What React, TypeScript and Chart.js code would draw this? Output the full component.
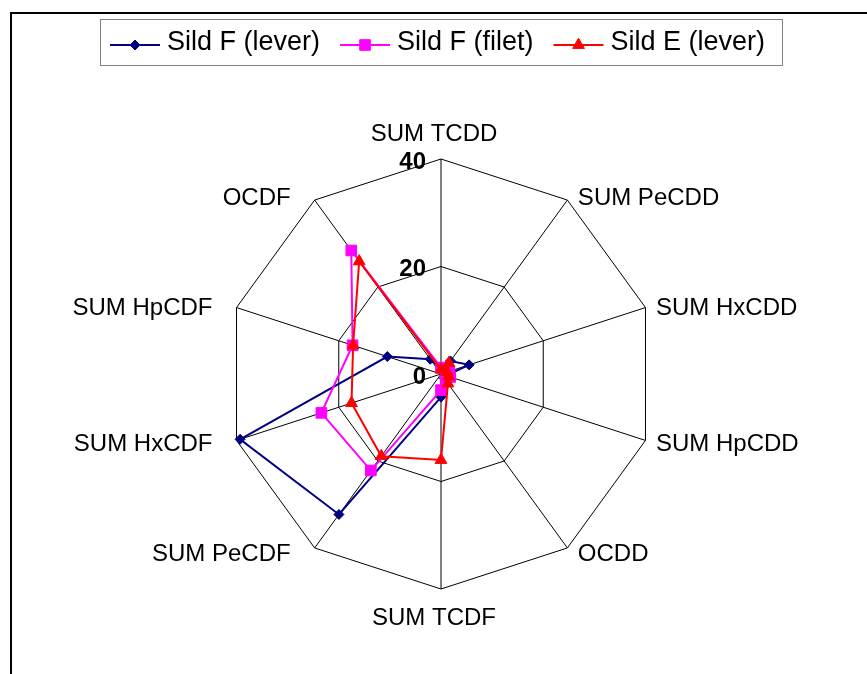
import React, { useEffect, useRef } from 'react';
import { Chart, registerables } from 'chart.js';

Chart.register(...registerables);

const categories = [
  'SUM TCDD',
  'SUM PeCDD',
  'SUM HxCDD',
  'SUM HpCDD',
  'OCDD',
  'SUM TCDF',
  'SUM PeCDF',
  'SUM HxCDF',
  'SUM HpCDF',
  'OCDF',
];

const seriesNames = ['Sild F (lever)', 'Sild F (filet)', 'Sild E (lever)'];
const sildFLever = [1.0, 3.0, 5.5, 1.0, 1.0, 4.3, 32.3, 39.3, 10.5, 3.4];
const sildFFilet = [1.2, 1.2, 1.6, 1.8, 1.5, 3.0, 22.2, 23.4, 17.3, 28.4];
const sildELever = [0.8, 2.5, 1.2, 1.5, 2.2, 16.0, 18.9, 17.5, 17.2, 25.9];
const tickValues = [0, 20, 40];

const seriesColors = ['#000080', '#FF00FF', '#FF0000'];
const seriesStyles = ['rectRot', 'rect', 'triangle'];
const seriesRadius = [5, 7.5, 6.8];

const FONT = '"Liberation Sans", Arial, sans-serif';

function drawMarker(ctx: CanvasRenderingContext2D, style: string, x: number, y: number, r: number, color: string) {
  ctx.save();
  ctx.fillStyle = color;
  ctx.strokeStyle = color;
  ctx.lineWidth = 1;
  ctx.beginPath();
  if (style === 'rectRot') {
    ctx.moveTo(x - r, y);
    ctx.lineTo(x, y - r);
    ctx.lineTo(x + r, y);
    ctx.lineTo(x, y + r);
    ctx.closePath();
  } else if (style === 'rect') {
    const s = Math.SQRT1_2 * r;
    ctx.rect(x - s, y - s, 2 * s, 2 * s);
  } else {
    let a = 0;
    ctx.moveTo(x + Math.sin(a) * r, y - Math.cos(a) * r);
    a += (2 * Math.PI) / 3;
    ctx.lineTo(x + Math.sin(a) * r, y - Math.cos(a) * r);
    a += (2 * Math.PI) / 3;
    ctx.lineTo(x + Math.sin(a) * r, y - Math.cos(a) * r);
    ctx.closePath();
  }
  ctx.fill();
  ctx.stroke();
  ctx.restore();
}

const decorPlugin = {
  id: 'decor',
  afterDraw(chart: any) {
    const ctx: CanvasRenderingContext2D = chart.ctx;
    const scale = chart.scales.r;
    ctx.save();

    // outer frame (top and left edges)
    ctx.fillStyle = '#000';
    ctx.fillRect(10, 12, chart.width - 10, 2);
    ctx.fillRect(10, 12, 2, chart.height - 12);

    // tick labels
    ctx.font = `bold 24px ${FONT}`;
    ctx.textAlign = 'right';
    ctx.textBaseline = 'alphabetic';
    ctx.fillStyle = '#000';
    tickValues.forEach((v) => {
      const d = scale.getDistanceFromCenterForValue(v);
      ctx.fillText(String(v), scale.xCenter - 15, scale.yCenter - d + 9.5);
    });

    // point labels
    ctx.font = `24px ${FONT}`;
    const n = categories.length;
    categories.forEach((label, i) => {
      const p = scale.getPointPosition(i, scale.drawingArea);
      const ang = ((i * 360) / n) * (Math.PI / 180);
      const cos = Math.cos(ang);
      if (i === 0) {
        ctx.textAlign = 'center';
        ctx.fillText(label, p.x - 7, p.y - 18);
      } else if (i === n / 2) {
        ctx.textAlign = 'center';
        ctx.fillText(label, p.x - 7, p.y + 36);
      } else if (i < n / 2) {
        ctx.textAlign = 'left';
        ctx.fillText(label, p.x + 10.5, p.y + 9 - 5 * cos);
      } else {
        ctx.textAlign = 'right';
        ctx.fillText(label, p.x - 24, p.y + 9 - 5 * cos);
      }
    });

    // legend
    ctx.strokeStyle = '#808080';
    ctx.lineWidth = 1;
    ctx.strokeRect(100.5, 19.5, 682, 46);
    ctx.font = `27px ${FONT}`;
    ctx.textAlign = 'left';
    let x = 110;
    const ly = 45;
    seriesNames.forEach((name, k) => {
      ctx.strokeStyle = seriesColors[k];
      ctx.lineWidth = 2;
      ctx.beginPath();
      ctx.moveTo(x, ly);
      ctx.lineTo(x + 50, ly);
      ctx.stroke();
      drawMarker(ctx, seriesStyles[k], x + 25, ly, seriesRadius[k], seriesColors[k]);
      ctx.fillStyle = '#000';
      ctx.fillText(name, x + 57, 50);
      x += 57 + ctx.measureText(name).width + 20;
    });

    ctx.restore();
  },
};

export default function App() {
  const ref = useRef<HTMLCanvasElement>(null);

  useEffect(() => {
    const seriesData = [sildFLever, sildFFilet, sildELever];
    const chart = new Chart(ref.current as HTMLCanvasElement, {
      type: 'radar',
      data: {
        labels: categories,
        datasets: seriesNames.map((name, k) => ({
          label: name,
          data: seriesData[k],
          borderColor: seriesColors[k],
          backgroundColor: seriesColors[k],
          pointBackgroundColor: seriesColors[k],
          pointBorderColor: seriesColors[k],
          pointStyle: seriesStyles[k] as any,
          pointRadius: seriesRadius[k],
          pointBorderWidth: 1,
          borderWidth: 2,
          fill: false,
          tension: 0,
          order: 3 - k,
        })),
      },
      options: {
        responsive: false,
        animation: false,
        events: [],
        layout: { padding: { left: 226, right: 211, top: 159, bottom: 85 } },
        plugins: {
          legend: { display: false },
          tooltip: { enabled: false },
          title: { display: false },
        },
        scales: {
          r: {
            min: 0,
            max: 40,
            ticks: { display: false, stepSize: 20 },
            grid: { color: '#000', lineWidth: 1 },
            angleLines: { color: '#000', lineWidth: 1 },
            pointLabels: { display: false },
          },
        },
      },
      plugins: [decorPlugin],
    });
    return () => chart.destroy();
  }, []);

  return (
    <div style={{ position: 'absolute', left: 0, top: 0, width: 867, height: 674, background: '#fff' }}>
      <canvas ref={ref} width={867} height={674} style={{ display: 'block', width: 867, height: 674 }} />
    </div>
  );
}
